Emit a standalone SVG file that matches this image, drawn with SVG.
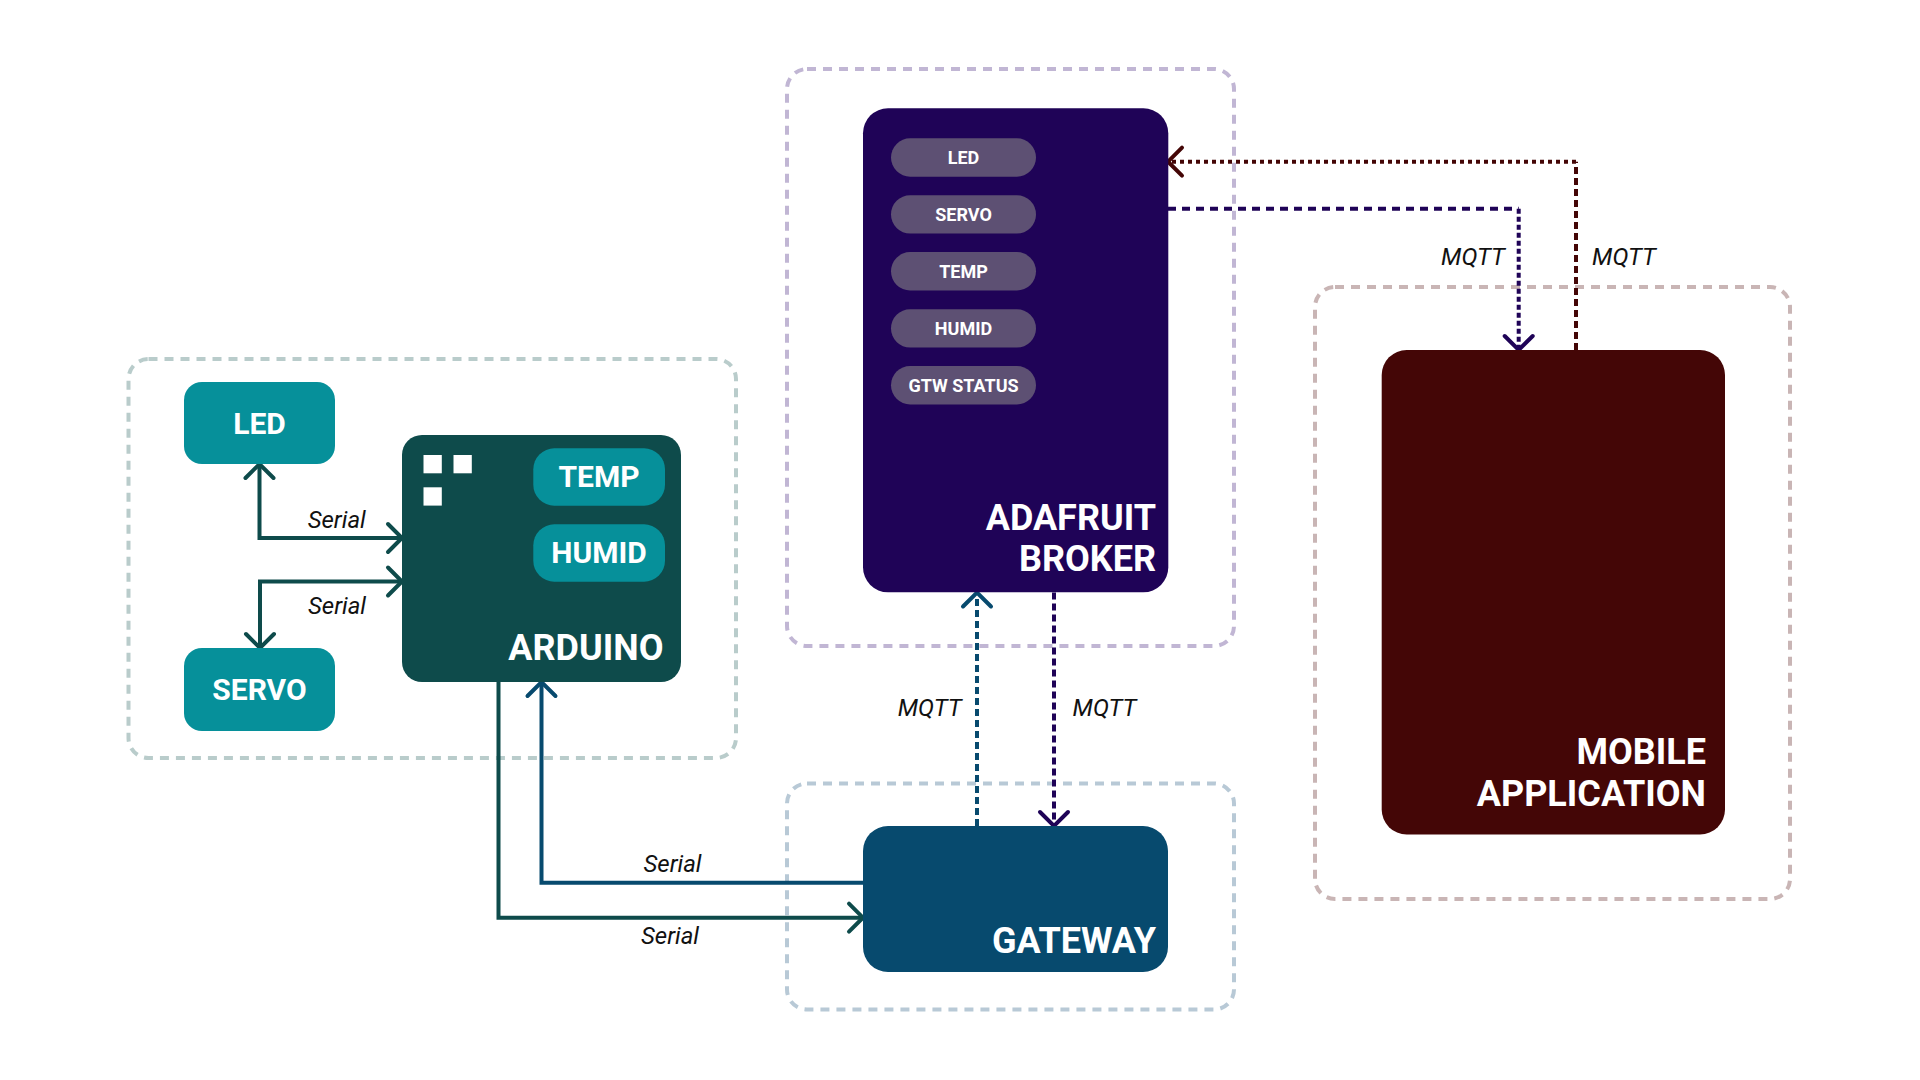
<svg xmlns="http://www.w3.org/2000/svg" width="1920" height="1080" viewBox="0 0 1920 1080">
  <style>
    .grp { fill: none; stroke-width: 4; stroke-dasharray: 9 7; }
    .title { font-family: Roboto, "Liberation Sans", sans-serif; font-weight: 700; font-size: 36px; fill: #ffffff; text-anchor: end; }
    .chip { font-family: Roboto, "Liberation Sans", sans-serif; font-weight: 700; font-size: 30px; fill: #ffffff; text-anchor: middle; }
    .pilltxt { font-family: Roboto, "Liberation Sans", sans-serif; font-weight: 700; font-size: 18px; fill: #ffffff; text-anchor: middle; }
    .lbl { font-family: Roboto, "Liberation Sans", sans-serif; font-style: italic; font-size: 24px; fill: #111111; text-anchor: middle; }
    .conn { fill: none; stroke-width: 4; }
  </style>
  <defs>
    <marker id="arr-teal" markerUnits="userSpaceOnUse" orient="auto-start-reverse" refX="0" refY="0" markerWidth="40" markerHeight="40" overflow="visible">
      <path d="M-14,-14 L0,0 L-14,14" fill="none" stroke="#0e4b4b" stroke-width="4" stroke-linecap="round"/>
    </marker>
    <marker id="arr-blue" markerUnits="userSpaceOnUse" orient="auto-start-reverse" refX="0" refY="0" markerWidth="40" markerHeight="40" overflow="visible">
      <path d="M-14,-14 L0,0 L-14,14" fill="none" stroke="#074a6e" stroke-width="4" stroke-linecap="round"/>
    </marker>
    <marker id="arr-purple" markerUnits="userSpaceOnUse" orient="auto" refX="0" refY="0" markerWidth="40" markerHeight="40" overflow="visible">
      <path d="M-14,-14 L0,0 L-14,14" fill="none" stroke="#1f0357" stroke-width="4" stroke-linecap="round"/>
    </marker>
    <marker id="arr-maroon" markerUnits="userSpaceOnUse" orient="auto" refX="0" refY="0" markerWidth="40" markerHeight="40" overflow="visible">
      <path d="M-14,-14 L0,0 L-14,14" fill="none" stroke="#440606" stroke-width="4" stroke-linecap="round"/>
    </marker>
  </defs>

  <rect width="1920" height="1080" fill="#ffffff"/>

  <!-- group frames -->
  <g id="frames">
    <rect id="frame-arduino" class="grp" x="128.5" y="359" width="607.5" height="399" rx="20" stroke="#b9cccb"/>
    <rect id="frame-broker" class="grp" x="787" y="69" width="447" height="577" rx="20" stroke="#c1b6d4"/>
    <rect id="frame-gateway" class="grp" x="787" y="783.5" width="447" height="226" rx="20" stroke="#b8c9d6"/>
    <rect id="frame-mobile" class="grp" x="1315" y="287" width="475" height="612" rx="20" stroke="#c9b5b5"/>
  </g>

  <!-- connectors -->
  <g id="connectors">
    <path id="c-led" class="conn" d="M259.5,464 V538 H402" stroke="#0e4b4b" marker-start="url(#arr-teal)" marker-end="url(#arr-teal)"/>
    <path id="c-servo" class="conn" d="M260,648 V581.5 H402" stroke="#0e4b4b" marker-start="url(#arr-teal)" marker-end="url(#arr-teal)"/>
    <path id="c-ard-gw" class="conn" d="M498.5,682 V917.7 H863" stroke="#0e4b4b" marker-end="url(#arr-teal)"/>
    <path id="c-gw-ard" class="conn" d="M863,882.7 H541.5 V682" stroke="#074a6e" marker-end="url(#arr-blue)"/>
    <path id="c-gw-broker" class="conn" d="M977,826 V592.5" stroke="#074a6e" stroke-dasharray="7 4" marker-end="url(#arr-blue)"/>
    <path id="c-broker-gw" class="conn" d="M1054,592.5 V826" stroke="#1f0357" stroke-dasharray="7 4" marker-end="url(#arr-purple)"/>
    <g id="c-broker-mobile">
      <path class="conn" d="M1168,208.7 H1518.7" stroke="#1f0357" stroke-dasharray="8 6"/>
      <path class="conn" d="M1518.7,208.7 V350" stroke="#1f0357" stroke-dasharray="5 3" marker-end="url(#arr-purple)"/>
    </g>
    <g id="c-mobile-broker">
      <path class="conn" d="M1576,350 V161.7" stroke="#440606" stroke-dasharray="7 4"/>
      <path class="conn" d="M1576,161.7 H1168" stroke="#440606" stroke-dasharray="4 4" marker-end="url(#arr-maroon)"/>
    </g>
    <text class="lbl" x="336.7" y="528">Serial</text>
    <text class="lbl" x="337" y="614">Serial</text>
    <text class="lbl" x="672.5" y="872">Serial</text>
    <text class="lbl" x="670" y="944">Serial</text>
    <text class="lbl" x="929.7" y="716">MQTT</text>
    <text class="lbl" x="1104.5" y="716">MQTT</text>
    <text class="lbl" x="1473" y="265">MQTT</text>
    <text class="lbl" x="1624" y="265">MQTT</text>
  </g>

  <!-- nodes -->
  <g id="led">
    <rect x="184" y="382" width="151" height="82" rx="18" fill="#06909a"/>
    <text class="chip" x="259.5" y="434">LED</text>
  </g>
  <g id="servo">
    <rect x="184" y="648" width="151" height="83" rx="18" fill="#06909a"/>
    <text class="chip" x="259.5" y="700">SERVO</text>
  </g>
  <g id="arduino">
    <rect x="402" y="435" width="279" height="247" rx="20" fill="#0e4b4b"/>
    <rect x="423.5" y="455" width="18.3" height="18.3" fill="#ffffff"/>
    <rect x="453.5" y="455" width="18.3" height="18.3" fill="#ffffff"/>
    <rect x="423.5" y="487.3" width="18.3" height="18.3" fill="#ffffff"/>
    <rect x="533.3" y="448.3" width="131.7" height="57.4" rx="21" fill="#06909a"/>
    <text class="chip" x="599" y="487">TEMP</text>
    <rect x="533.3" y="524.3" width="131.7" height="57.4" rx="21" fill="#06909a"/>
    <text class="chip" x="599" y="563">HUMID</text>
    <text class="title" x="663.5" y="659.5">ARDUINO</text>
  </g>
  <g id="broker">
    <rect x="863" y="108.3" width="305.3" height="484" rx="25" fill="#1f0357"/>
    <rect x="891" y="138.3" width="145" height="38.4" rx="19.2" fill="#5d5073"/>
    <text class="pilltxt" x="963.5" y="164">LED</text>
    <rect x="891" y="195.2" width="145" height="38.4" rx="19.2" fill="#5d5073"/>
    <text class="pilltxt" x="963.5" y="221">SERVO</text>
    <rect x="891" y="252.1" width="145" height="38.4" rx="19.2" fill="#5d5073"/>
    <text class="pilltxt" x="963.5" y="278">TEMP</text>
    <rect x="891" y="309.2" width="145" height="38.4" rx="19.2" fill="#5d5073"/>
    <text class="pilltxt" x="963.5" y="335">HUMID</text>
    <rect x="891" y="366" width="145" height="38.4" rx="19.2" fill="#5d5073"/>
    <text class="pilltxt" x="963.5" y="392">GTW STATUS</text>
    <text class="title" x="1156" y="529.5">ADAFRUIT</text>
    <text class="title" x="1156" y="571">BROKER</text>
  </g>
  <g id="gateway">
    <rect x="863" y="826" width="305" height="146" rx="25" fill="#074a6e"/>
    <text class="title" x="1156" y="952.7">GATEWAY</text>
  </g>
  <g id="mobile">
    <rect x="1381.7" y="350" width="343.3" height="484.5" rx="25" fill="#440606"/>
    <text class="title" x="1706" y="764">MOBILE</text>
    <text class="title" x="1706" y="805.7">APPLICATION</text>
  </g>
</svg>
